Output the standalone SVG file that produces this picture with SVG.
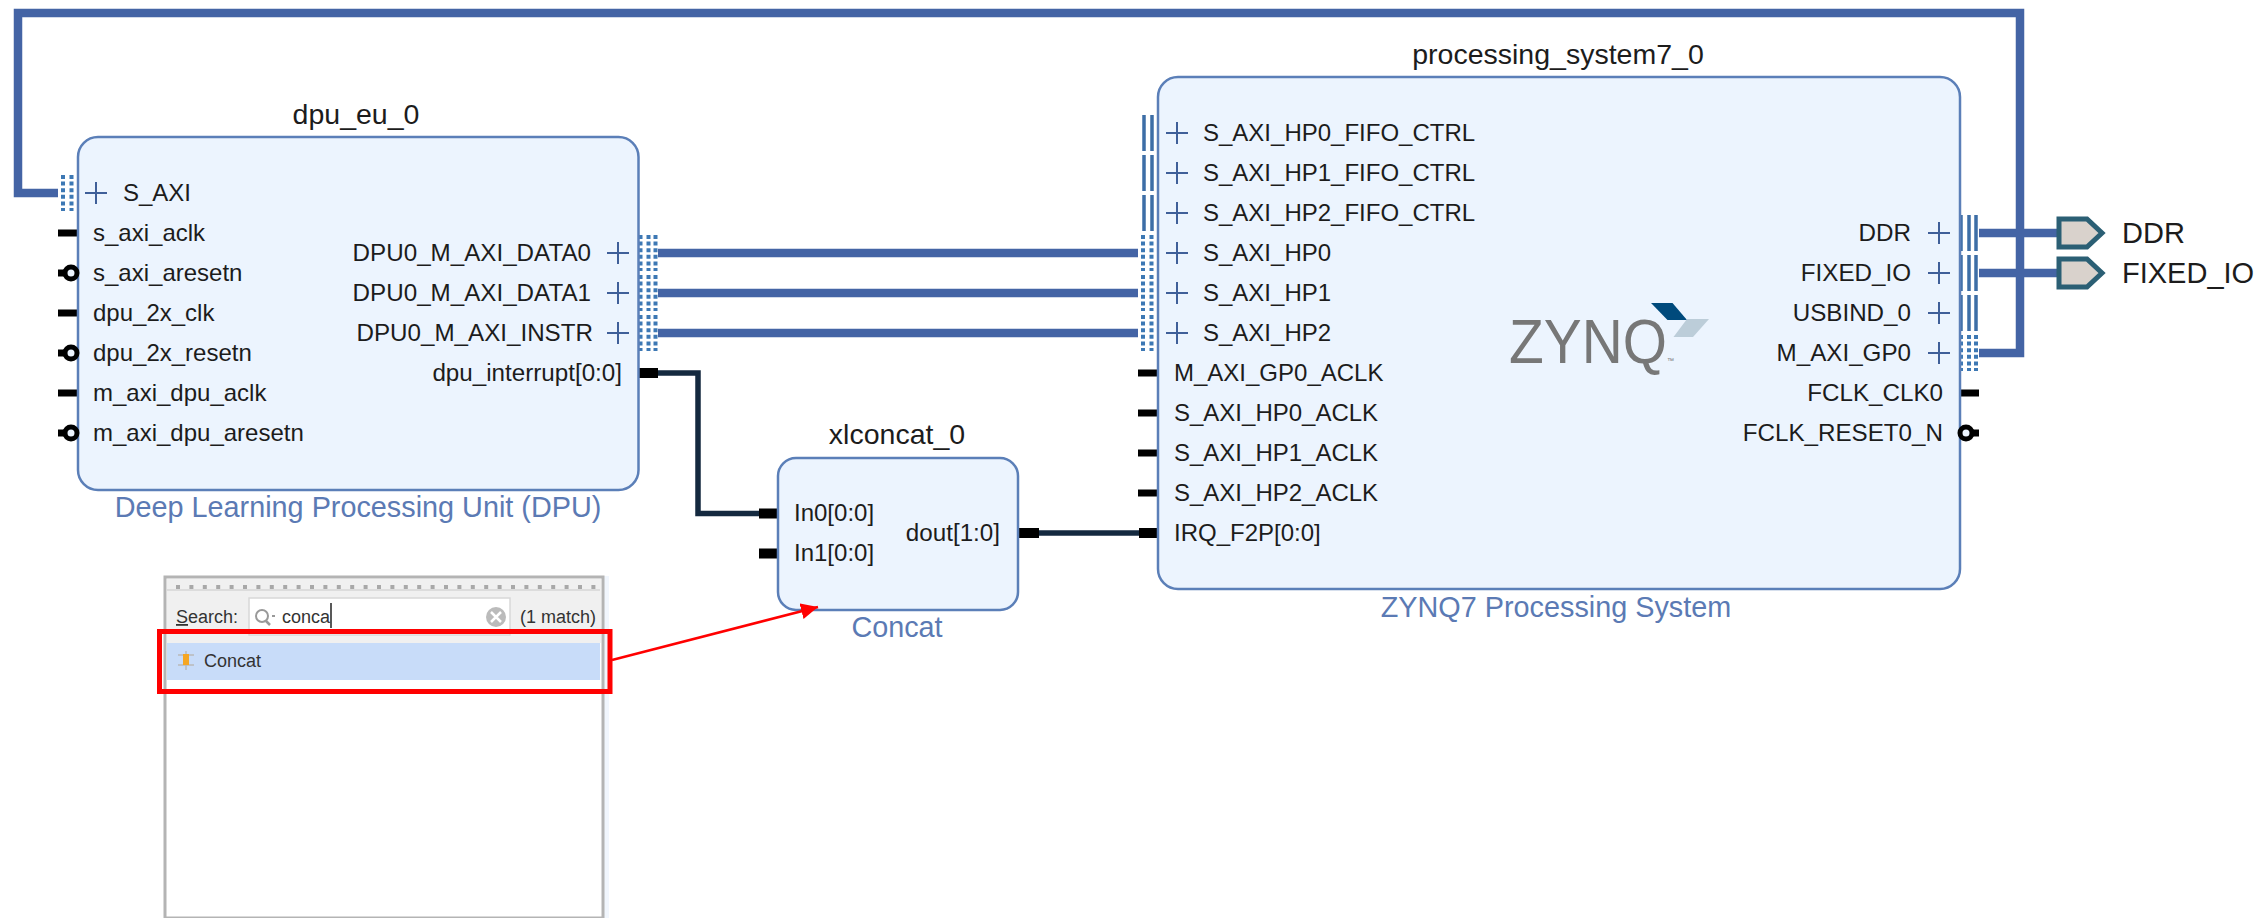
<svg xmlns="http://www.w3.org/2000/svg" width="2258" height="918" viewBox="0 0 2258 918">
<style>
text{font-family:"Liberation Sans",Arial,sans-serif;fill:#1c1c1c}
.l{font-size:24px}
.r{font-size:24.2px;text-anchor:end}
.t{font-size:28.5px;text-anchor:middle}
.n{font-size:28.8px;text-anchor:middle;fill:#5b7ab4}
.e{font-size:29px}
.s{font-size:18px;fill:#333}
.box{fill:#ecf4fe;stroke:#5b7fb8;stroke-width:2.5}
.plus{fill:none;stroke:#3f5f99;stroke-width:2}
.bar{fill:none;stroke:#3d6ea6;stroke-width:3.5}
.dot{fill:none;stroke:#3d78b4;stroke-width:4;stroke-dasharray:4 2.6}
.tick{stroke:#000;stroke-width:7}
.bus{fill:none;stroke:#4464a5;stroke-width:8.5}
.sig{fill:none;stroke:#14293f;stroke-width:5.5}
.pin{stroke:#000;stroke-width:10}
.rst{fill:#ecf4fe;stroke:#000;stroke-width:5}
.ext{fill:#d9d2cc;stroke:#2b5f74;stroke-width:5}
</style>
<defs>
<path id="p" class="plus" d="M-11 0H11M0-11V11"/>
<path id="tickL" class="tick" d="M-20 0H0"/>
<path id="rstT" class="tick" d="M-20 0H-10"/>
<marker id="ah" markerUnits="userSpaceOnUse" markerWidth="18" markerHeight="18" refX="17" refY="8" orient="auto"><path d="M0 0L17 8L0 16Z" fill="#f00"/></marker>
<path id="dotL" class="dot" d="M-15-18V18M-6.500-18V18"/>
<path id="barL" class="bar" d="M-14-18V18M-6-18V18"/>
<path id="barR" class="bar" d="M2-18V18M10-18V18M17-18V18"/>
<path id="dotR" class="dot" d="M2-18V18M10-18V18M17-18V18"/>
</defs>

<g id="connectors">
<path class="bus" d="M1979 353H2020V13H18V193H58"/>
<path class="bus" d="M658 253H1138"/>
<path class="bus" d="M658 293H1138"/>
<path class="bus" d="M658 333H1138"/>
<path class="bus" d="M1979 233H2058"/>
<path class="bus" d="M1979 273H2058"/>
<path class="sig" d="M658 373H698V513.500H760"/>
<path class="sig" d="M1038 533H1140"/>
</g>

<g id="dpu_eu_0">
<text class="t" x="356" y="124">dpu_eu_0</text>
<use href="#dotL" x="78" y="193"/>
<use href="#tickL" x="78" y="233"/>
<use href="#rstT" x="78" y="273"/>
<use href="#tickL" x="78" y="313"/>
<use href="#rstT" x="78" y="353"/>
<use href="#tickL" x="78" y="393"/>
<use href="#rstT" x="78" y="433"/>
<use href="#dotR" x="638.500" y="253"/>
<use href="#dotR" x="638.500" y="293"/>
<use href="#dotR" x="638.500" y="333"/>
<path class="pin" d="M638 373H658"/>
<rect class="box" x="78" y="137" width="560.500" height="353" rx="20"/>
<circle class="rst" cx="71" cy="273" r="6"/><circle class="rst" cx="71" cy="353" r="6"/><circle class="rst" cx="71" cy="433" r="6"/>
<use href="#p" x="96" y="193"/>
<text class="l" x="123" y="201">S_AXI</text>
<text class="l" x="93" y="241">s_axi_aclk</text>
<text class="l" x="93" y="281">s_axi_aresetn</text>
<text class="l" x="93" y="321">dpu_2x_clk</text>
<text class="l" x="93" y="361">dpu_2x_resetn</text>
<text class="l" x="93" y="401">m_axi_dpu_aclk</text>
<text class="l" x="93" y="441">m_axi_dpu_aresetn</text>
<text class="r" x="591" y="261">DPU0_M_AXI_DATA0</text>
<text class="r" x="591" y="301">DPU0_M_AXI_DATA1</text>
<text class="r" x="593" y="341">DPU0_M_AXI_INSTR</text>
<text class="r" x="622" y="381">dpu_interrupt[0:0]</text>
<use href="#p" x="618" y="253"/><use href="#p" x="618" y="293"/><use href="#p" x="618" y="333"/>
<text class="n" x="358" y="517">Deep Learning Processing Unit (DPU)</text>
</g>

<g id="xlconcat_0">
<text class="t" x="897" y="444">xlconcat_0</text>
<path class="pin" d="M759 513.500H778M759 553.500H778M1019 533H1039"/>
<rect class="box" x="778" y="458" width="240" height="152" rx="18"/>
<text class="l" x="794" y="521">In0[0:0]</text>
<text class="l" x="794" y="561">In1[0:0]</text>
<text class="r" x="1000" y="541">dout[1:0]</text>
<text class="n" x="897" y="637">Concat</text>
</g>

<g id="processing_system7_0">
<text class="t" x="1558" y="64">processing_system7_0</text>
<use href="#barL" x="1158" y="133"/><use href="#barL" x="1158" y="173"/><use href="#barL" x="1158" y="213"/>
<use href="#dotL" x="1158" y="253"/><use href="#dotL" x="1158" y="293"/><use href="#dotL" x="1158" y="333"/>
<use href="#tickL" x="1158" y="373"/><use href="#tickL" x="1158" y="413"/><use href="#tickL" x="1158" y="453"/><use href="#tickL" x="1158" y="493"/>
<path class="pin" d="M1139 533H1158"/>
<use href="#barR" x="1959" y="233"/><use href="#barR" x="1959" y="273"/><use href="#barR" x="1959" y="313"/><use href="#dotR" x="1959" y="353"/>
<path class="tick" d="M1959 393H1979M1965 433H1979"/>
<rect class="box" x="1158" y="77" width="802" height="512" rx="20"/>
<circle class="rst" cx="1966" cy="433" r="6"/>
<use href="#p" x="1177" y="133"/><use href="#p" x="1177" y="173"/><use href="#p" x="1177" y="213"/><use href="#p" x="1177" y="253"/><use href="#p" x="1177" y="293"/><use href="#p" x="1177" y="333"/>
<text class="l" x="1203" y="141">S_AXI_HP0_FIFO_CTRL</text>
<text class="l" x="1203" y="181">S_AXI_HP1_FIFO_CTRL</text>
<text class="l" x="1203" y="221">S_AXI_HP2_FIFO_CTRL</text>
<text class="l" x="1203" y="261">S_AXI_HP0</text>
<text class="l" x="1203" y="301">S_AXI_HP1</text>
<text class="l" x="1203" y="341">S_AXI_HP2</text>
<text class="l" x="1174" y="381">M_AXI_GP0_ACLK</text>
<text class="l" x="1174" y="421">S_AXI_HP0_ACLK</text>
<text class="l" x="1174" y="461">S_AXI_HP1_ACLK</text>
<text class="l" x="1174" y="501">S_AXI_HP2_ACLK</text>
<text class="l" x="1174" y="541">IRQ_F2P[0:0]</text>
<text class="r" x="1911" y="241">DDR</text>
<text class="r" x="1911" y="281">FIXED_IO</text>
<text class="r" x="1911" y="321">USBIND_0</text>
<text class="r" x="1911" y="361">M_AXI_GP0</text>
<text class="r" x="1943" y="401">FCLK_CLK0</text>
<text class="r" x="1943" y="441">FCLK_RESET0_N</text>
<use href="#p" x="1939" y="233"/><use href="#p" x="1939" y="273"/><use href="#p" x="1939" y="313"/><use href="#p" x="1939" y="353"/>
<text x="1509" y="363" font-size="63" textLength="158" lengthAdjust="spacingAndGlyphs" style="fill:#777">ZYNQ</text>
<text x="1667" y="363" font-size="7" style="fill:#777">™</text>
<polygon points="1651,303 1672.500,303 1687,320 1667.500,320" fill="#004a7c"/>
<polygon points="1687,319 1709,319 1693,337 1673.500,337" fill="#bccdd9"/>
<text class="n" x="1556" y="617">ZYNQ7 Processing System</text>
</g>

<g id="port_DDR">
<polygon class="ext" points="2059,219 2087,219 2102,233 2087,247 2059,247"/>
<text class="e" x="2122" y="243">DDR</text>
</g>
<g id="port_FIXED_IO">
<polygon class="ext" points="2059,259 2087,259 2102,273 2087,287 2059,287"/>
<text class="e" x="2122" y="283">FIXED_IO</text>
</g>

<g id="search_panel">
<rect x="603" y="576" width="6" height="342" fill="#f1f6fd"/>
<rect x="165" y="577" width="438" height="341" fill="#fff" stroke="#b4b4b4" stroke-width="3"/>
<rect x="167" y="579" width="434" height="64" fill="#f0f0f0"/>
<path d="M167 590H600" stroke="#dcdcdc" stroke-width="2"/>
<path d="M176 587H596" stroke="#a8a8a8" stroke-width="4" stroke-dasharray="4 9.400"/>
<text class="s" x="176" y="623"><tspan text-decoration="underline">S</tspan>earch:</text>
<rect x="249" y="598" width="261" height="37" fill="#fff" stroke="#d8d8d8" stroke-width="1.500"/>
<circle cx="262" cy="616" r="6" fill="none" stroke="#999" stroke-width="2"/>
<path d="M266 621L270 625" stroke="#999" stroke-width="2.500"/>
<path d="M272 616H275" stroke="#999" stroke-width="2"/>
<text class="s" x="282" y="623">conca</text>
<path d="M331 603V628" stroke="#222" stroke-width="1.500"/>
<circle cx="496" cy="617" r="10" fill="#bbb"/>
<path d="M491 612L501 622M501 612L491 622" stroke="#fff" stroke-width="2.500"/>
<text class="s" x="520" y="623">(1 match)</text>
<rect x="167" y="643" width="433" height="37" fill="#c8dcf9"/>
<path d="M178 655H194M178 665H194M186 651V670" stroke="#b9b9b9" stroke-width="1.500"/>
<rect x="183" y="654" width="6" height="11" fill="#f5a623"/>
<text class="s" x="204" y="667">Concat</text>
<rect x="159.500" y="631.500" width="450.500" height="60" fill="none" stroke="#f00" stroke-width="5"/>
<path d="M612 660L818 607" fill="none" stroke="#f00" stroke-width="2.500" marker-end="url(#ah)"/>
</g>
</svg>
